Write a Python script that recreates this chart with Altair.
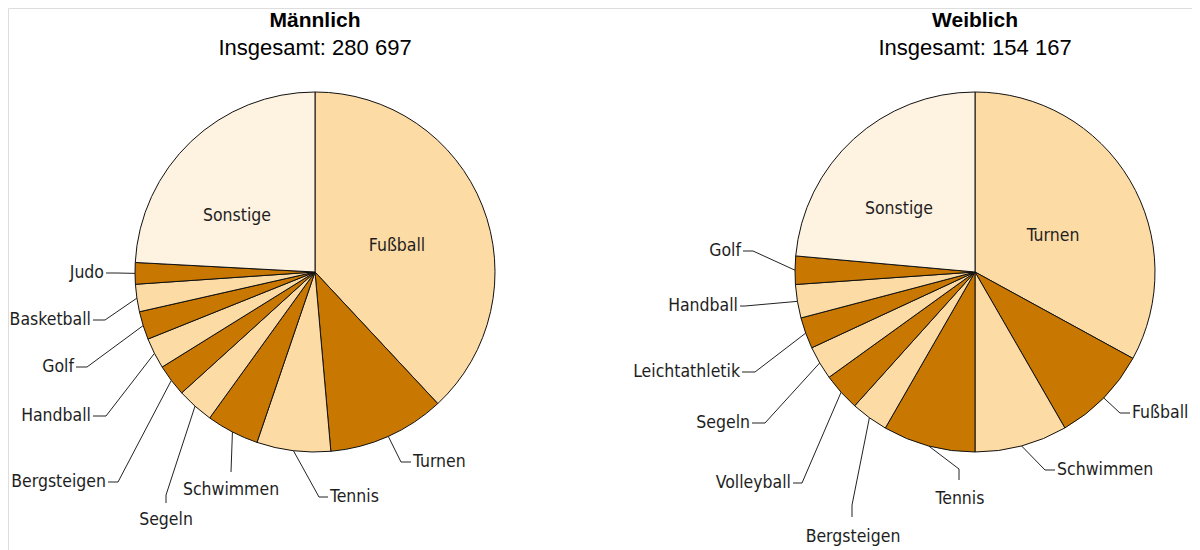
import math
import altair as alt
import pandas as pd

# ---------------- data ----------------
GENDERS = ["Männlich", "Weiblich"]
TOTALS = [280697, 154167]

SPORTS_M = ["Fußball", "Turnen", "Tennis", "Schwimmen", "Segeln", "Bergsteigen",
            "Handball", "Golf", "Basketball", "Judo", "Sonstige"]
VALUES_M = [106800, 29600, 18600, 13250, 9350, 8050, 7800, 7100, 6900, 5420, 67800]

SPORTS_W = ["Turnen", "Fußball", "Schwimmen", "Tennis", "Bergsteigen", "Volleyball",
            "Segeln", "Leichtathletik", "Handball", "Golf", "Sonstige"]
VALUES_W = [50830, 13430, 12830, 12800, 5170, 5240, 4670, 4330, 4630, 3900, 36350]

# ---------------- layout (pixels, kept apart from the data) ----------------
W, H = 1184, 542
CENTERS = [(307, 264), (967, 264)]
RADIUS = 180
TITLE_DY = (-251, -224)

# per label: align, elbow (dx,dy), stub end (dx,dy), text anchor (dx,dy); relative to pie centre
LAYOUT_M = {
    "Fußball":     ("center", None, None, (82, -26)),
    "Turnen":      ("left", (86, 190), (96, 190), (98, 190)),
    "Tennis":      ("left", (4, 225), (13, 225), (15, 225)),
    "Schwimmen":   ("center", (-84, 200), (-84, 200), (-84, 218)),
    "Segeln":      ("center", (-149, 223), (-149, 231), (-149, 248)),
    "Bergsteigen": ("right", (-197, 210), (-207, 210), (-209, 210)),
    "Handball":    ("right", (-209, 144), (-222, 144), (-224, 144)),
    "Golf":        ("right", (-228, 95), (-239, 95), (-241, 95)),
    "Basketball":  ("right", (-210, 48), (-222, 48), (-224, 48)),
    "Judo":        ("right", (-198, 1), (-209, 1), (-211, 1)),
    "Sonstige":    ("center", None, None, (-78, -56)),
}
LAYOUT_W = {
    "Turnen":         ("center", None, None, (78, -36)),
    "Fußball":        ("left", (145, 141), (155, 141), (157, 141)),
    "Schwimmen":      ("left", (70, 198), (80, 198), (82, 198)),
    "Tennis":         ("center", (-16, 197), (-16, 208), (-15, 227)),
    "Bergsteigen":    ("center", (-123, 233), (-123, 245), (-122, 265)),
    "Volleyball":     ("right", (-173, 211), (-182, 211), (-184, 211)),
    "Segeln":         ("right", (-210, 151), (-223, 151), (-225, 151)),
    "Leichtathletik": ("right", (-220, 100), (-233, 100), (-235, 100)),
    "Handball":       ("right", (-230, 34), (-235, 34), (-237, 34)),
    "Golf":           ("right", (-222, -21), (-232, -21), (-234, -21)),
    "Sonstige":       ("center", None, None, (-76, -63)),
}

LIGHT, DARK, OTHER = "#FDDBA5", "#C87700", "#FEF2E1"
LABEL_FONT = "DejaVu Sans Condensed, Liberation Sans Narrow, sans-serif"
LABEL_SIZE = 17.5
TITLE_FONT = "Liberation Sans, Arial, sans-serif"

# ---------------- tables built from the arrays ----------------
pie_rows, line_rows, text_rows, title_rows = [], [], [], []
for g, total, sports, values, layout, (cx, cy) in zip(
        GENDERS, TOTALS, [SPORTS_M, SPORTS_W], [VALUES_M, VALUES_W],
        [LAYOUT_M, LAYOUT_W], CENTERS):
    s = float(sum(values))
    cum = 0.0
    for i, (sp, v) in enumerate(zip(sports, values)):
        shade = "other" if sp == "Sonstige" else ("light" if i % 2 == 0 else "dark")
        pie_rows.append({"gender": g, "sport": sp, "value": v, "order": i, "shade": shade})
        mid = (cum + v / 2.0) / s * 2 * math.pi
        cum += v
        align, elbow, stub, txt = layout[sp]
        key = g + "|" + sp
        if elbow is not None:
            ex, ey = cx + RADIUS * math.sin(mid), cy - RADIUS * math.cos(mid)
            pts = [(ex, ey), (cx + elbow[0], cy + elbow[1]), (cx + stub[0], cy + stub[1])]
            for k, (px, py) in enumerate(pts):
                line_rows.append({"key": key, "pt": k, "x": px, "y": py})
        text_rows.append({"label": sp, "align": align,
                          "x": cx + txt[0], "y": cy + txt[1]})
    title_rows.append({"t": g, "kind": "name", "x": cx, "y": cy + TITLE_DY[0]})
    title_rows.append({"t": "Insgesamt: " + f"{total:,}".replace(",", " "),
                       "kind": "total", "x": cx, "y": cy + TITLE_DY[1]})

pie_df = pd.DataFrame(pie_rows)
line_df = pd.DataFrame(line_rows)
text_df = pd.DataFrame(text_rows)
title_df = pd.DataFrame(title_rows)

X = lambda f: alt.X(f, type="quantitative", scale=None, axis=None)
Y = lambda f: alt.Y(f, type="quantitative", scale=None, axis=None)

layers = []
for g, (cx, cy) in zip(GENDERS, CENTERS):
    layers.append(
        alt.Chart(pie_df).transform_filter(alt.datum.gender == g)
        .mark_arc(outerRadius=RADIUS, stroke="#111111", strokeWidth=1)
        .encode(
            theta=alt.Theta("value:Q", stack="normalize"),
            order=alt.Order("order:Q"),
            color=alt.Color("shade:N", legend=None,
                            scale=alt.Scale(domain=["light", "dark", "other"],
                                            range=[LIGHT, DARK, OTHER])),
            x=alt.value(cx), y=alt.value(cy),
        )
    )

layers.append(
    alt.Chart(line_df).mark_line(color="#222222", strokeWidth=1)
    .encode(x=X("x"), y=Y("y"), detail="key:N", order="pt:Q")
)

for al in ["left", "right", "center"]:
    layers.append(
        alt.Chart(text_df).transform_filter(alt.datum.align == al)
        .mark_text(align=al, baseline="middle", font=LABEL_FONT, fontSize=LABEL_SIZE,
                   color="#1e1e1e")
        .encode(x=X("x"), y=Y("y"), text="label:N")
    )

layers.append(
    alt.Chart(title_df).transform_filter(alt.datum.kind == "name")
    .mark_text(align="center", baseline="middle", font=TITLE_FONT, fontSize=21,
               fontWeight="bold", color="#000000")
    .encode(x=X("x"), y=Y("y"), text="t:N")
)
layers.append(
    alt.Chart(title_df).transform_filter(alt.datum.kind == "total")
    .mark_text(align="center", baseline="middle", font=TITLE_FONT, fontSize=22,
               color="#000000")
    .encode(x=X("x"), y=Y("y"), text="t:N")
)

chart = (
    alt.layer(*layers)
    .properties(width=W, height=H, padding=0, autosize=alt.AutoSizeParams(type="none"))
    .configure_view(strokeWidth=0, stroke="transparent")
    .configure_axis(domain=False, grid=False, ticks=False, labels=False)
    .configure(background="white")
)

chart.save("out.html", embed_options={"renderer": "svg", "actions": False})
